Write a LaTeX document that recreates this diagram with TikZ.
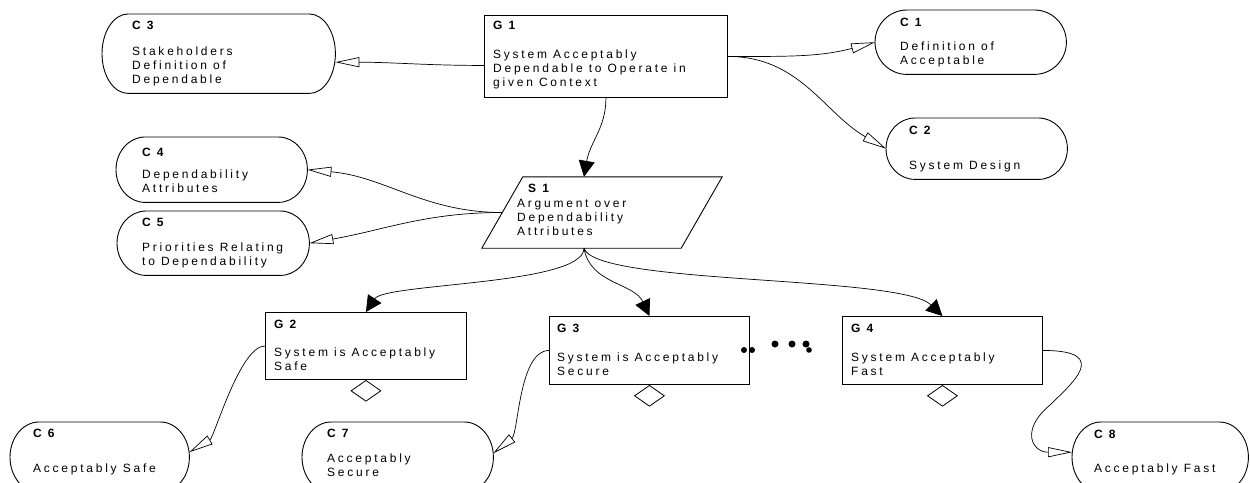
\documentclass[tikz,border=0pt]{standalone}
\usepackage{fontspec}
\setmainfont{Liberation Sans}[LetterSpace=23]
\usetikzlibrary{arrows.meta,shapes.geometric,calc}

% context outline with elliptic ends, drawn round a named node
\newcommand{\ctxoutline}[2][29pt]{%
  \draw[line width=0.9pt] let \p1=(#2.north), \p2=(#2.south), \n1={(\y1-\y2)/2} in
    ([xshift=#1]#2.north west) -- ([xshift=-#1]#2.north east)
    arc[start angle=90, end angle=-90, x radius=#1, y radius=\n1]
    -- ([xshift=#1]#2.south west)
    arc[start angle=270, end angle=90, x radius=#1, y radius=\n1] -- cycle;}

\begin{document}
\begin{tikzpicture}[x=1pt,y=1pt,
    goal/.style={draw, line width=0.9pt, rectangle, anchor=north west, inner sep=0pt},
    ctx/.style={anchor=north west, inner sep=0pt},
    choice/.style={draw, line width=0.8pt, diamond, minimum width=30,
      minimum height=21, inner sep=0pt, anchor=north},
    txt/.style={anchor=north west, align=left, inner sep=0pt,
      font=\fontsize{12}{14}\selectfont},
    ctxarrow/.style={line width=0.7pt, -{Triangle[open, length=24pt, width=10pt]}},
    solvarrow/.style={line width=0.7pt, -{Triangle[length=16pt, width=16pt]}}]
  \useasboundingbox (0,0) rectangle (1250,-482);

  % goals and strategy
  \node[goal, minimum width=243, minimum height=82] (G1) at (484,-15) {};
  \node[goal, minimum width=201, minimum height=67] (G2) at (265,-312) {};
  \node[goal, minimum width=200, minimum height=68] (G3) at (549,-316) {};
  \node[goal, minimum width=200, minimum height=68] (G4) at (842,-316) {};
  \node[inner sep=0pt, minimum width=240, minimum height=71] (S1) at (602,-212.5) {};
  \draw[line width=0.9pt] ([xshift=41]S1.north west) -- (S1.north east)
    -- ([xshift=-41]S1.south east) -- (S1.south west) -- cycle;

  % contexts
  \node[ctx, minimum width=191, minimum height=64] (C1) at (875,-10) {};
  \node[ctx, minimum width=181, minimum height=61] (C2) at (886,-118) {};
  \node[ctx, minimum width=233, minimum height=79] (C3) at (102,-14) {};
  \node[ctx, minimum width=191, minimum height=65] (C4) at (116,-137) {};
  \node[ctx, minimum width=192, minimum height=64] (C5) at (117,-211) {};
  \node[ctx, minimum width=179, minimum height=70] (C6) at (10,-422) {};
  \node[ctx, minimum width=191, minimum height=70] (C7) at (302,-422) {};
  \node[ctx, minimum width=176, minimum height=70] (C8) at (1072,-422) {};
  \ctxoutline[32pt]{C1}
  \ctxoutline{C2}
  \ctxoutline[26pt]{C3}
  \foreach \i in {4,...,8}
    \ctxoutline{C\i};

  % undeveloped markers
  \node[choice] (G2c) at (G2.south) {};
  \node[choice] (G3c) at (G3.south) {};
  \node[choice] (G4c) at (G4.south) {};

  % texts
  \node[txt] (G1t) at (493,-21.3) {\textbf{G 1}\\[15pt]System Acceptably\\Dependable to Operate in\\given Context};
  \node[txt] (G2t) at (274,-320.3) {\textbf{G 2}\\[14pt]System is Acceptably\\Safe};
  \node[txt] (G3t) at (557,-324.3) {\textbf{G 3}\\[15pt]System is Acceptably\\Secure};
  \node[txt] (G4t) at (851,-324.3) {\textbf{G 4}\\[15pt]System Acceptably\\Fast};
  \node[txt] (S1t) at (517,-184.3) {\hspace*{11pt}\textbf{S 1}\\[1pt]Argument over\\Dependability\\Attributes};
  \node[txt] (C1t) at (900,-18.3) {\textbf{C 1}\\[10pt]Definition of\\Acceptable};
  \node[txt] (C2t) at (909,-126.3) {\textbf{C 2}\\[21pt]System Design};
  \node[txt] (C3t) at (132,-21.3) {\textbf{C 3}\\[12pt]Stakeholders\\Definition of\\Dependable};
  \node[txt] (C4t) at (142,-148.3) {\textbf{C 4}\\[8pt]Dependability\\Attributes};
  \node[txt] (C5t) at (142,-218.3) {\textbf{C 5}\\[11pt]Priorities Relating\\to Dependability};
  \node[txt] (C6t) at (33,-429.3) {\textbf{C 6}\\[21pt]Acceptably Safe};
  \node[txt] (C7t) at (327,-429.3) {\textbf{C 7}\\[11pt]Acceptably\\Secure};
  \node[txt] (C8t) at (1094,-430.3) {\textbf{C 8}\\[20pt]Acceptably Fast};

  % more goals left out
  \fill (744,-350) circle (3) (752,-350) circle (3);
  \fill (775,-344) circle (3.5) (792,-344) circle (3.5) (806,-344) circle (3.5)
    (809,-350) circle (2.8);

  % links
  \draw[ctxarrow] ([yshift=-9]G1.west) to[out=180,in=0] ([yshift=-8.5]C3.east);
  \draw[ctxarrow] (G1.east) to[out=0,in=195] (C1.west);
  \draw[ctxarrow] (G1.east) to[out=0,in=150] (C2.west);
  \draw[solvarrow] (G1.south) .. controls +(0,-30) and +(6,35) .. ([xshift=-18]S1.north);
  \draw[ctxarrow] ([xshift=20.5]S1.west) to[out=180,in=-5] (C4.east);
  \draw[ctxarrow] ([xshift=20.5]S1.west) to[out=180,in=10] (C5.east);
  \draw[solvarrow] ([xshift=-18]S1.south) .. controls +(0,-37) and +(19,29) .. (G2.north);
  \draw[solvarrow] ([xshift=-18]S1.south) to[out=-80,in=115] (G3.north);
  \draw[solvarrow] ([xshift=-18]S1.south) .. controls +(11,-37) and +(-42,41) .. (G4.north);
  \draw[ctxarrow] (G2.west) .. controls +(-25,0) and +(25,15) .. ([yshift=5]C6.east);
  \draw[ctxarrow] (G3.west) .. controls +(-30,0) and +(25,20) .. ([yshift=4]C7.east);
  \draw[ctxarrow] (G4.east) .. controls +(70,0) and +(20,20) .. (1050,-405)
    .. controls +(-30,-25) and +(-40,0) .. ([yshift=5]C8.west);
\end{tikzpicture}
\end{document}
